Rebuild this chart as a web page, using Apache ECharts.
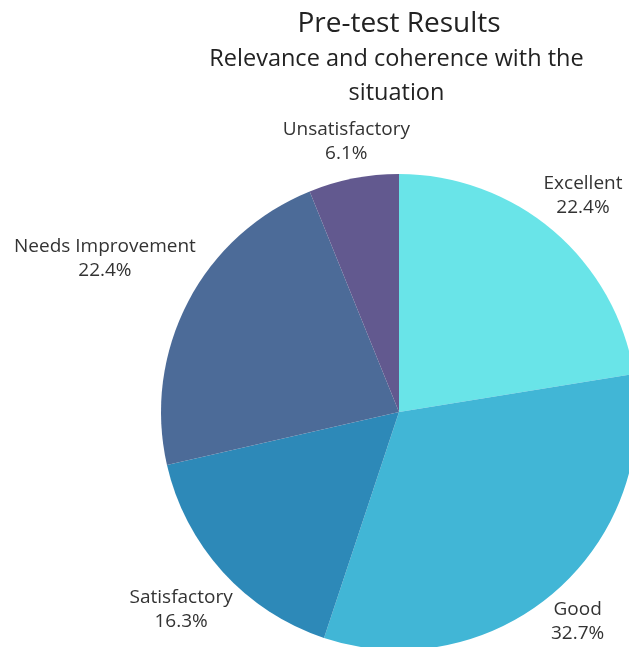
<!DOCTYPE html>
<html>
<head>
<meta charset="utf-8">
<script src="https://cdn.jsdelivr.net/npm/echarts@6/dist/echarts.min.js"></script>
<style>
html,body{margin:0;padding:0;background:#fff;}
#main{width:629px;height:647px;}
</style>
</head>
<body>
<div id="main"></div>
<script>
const categories = ['Excellent', 'Good', 'Satisfactory', 'Needs Improvement', 'Unsatisfactory'];
const counts = [11, 16, 8, 11, 3];
const colors = ['#69e4e8', '#41b6d6', '#2d89b8', '#4c6b98', '#62598f'];
const titleText = 'Pre-test Results';
const subtitleText = 'Relevance and coherence with the\nsituation';

const FONT = '"Open Sans", "Noto Sans", sans-serif';
const chart = echarts.init(document.getElementById('main'), null, {renderer: 'canvas'});
const total = counts.reduce((a, b) => a + b, 0);
const GAP = 2;

const option = {
  animation: false,
  backgroundColor: '#fff',
  title: [{
    text: titleText,
    left: 394, top: 5, textAlign: 'center',
    textStyle: {fontFamily: FONT, fontSize: 28, fontWeight: 'normal', color: '#222'}
  }, {
    text: subtitleText,
    left: 391.5, top: 37, textAlign: 'center',
    textStyle: {fontFamily: FONT, fontSize: 23.5, fontWeight: 'normal', color: '#222', lineHeight: 34}
  }],
  series: [{
    type: 'pie',
    center: [399, 412],
    radius: 238,
    startAngle: 90,
    clockwise: true,
    data: categories.map((c, i) => ({name: c, value: counts[i], itemStyle: {color: colors[i]}})),
    label: {
      show: true,
      position: 'outside',
      overflow: 'none',
      fontFamily: FONT,
      fontSize: 19,
      color: '#333',
      lineHeight: 24,
      align: 'center',
      formatter: p => p.name + '\n' + (p.value / total * 100).toFixed(1) + '%'
    },
    labelLine: {show: false, length: 10, length2: 0},
    labelLayout: function (params) {
      const data = chart.getModel().getSeriesByIndex(0).getData();
      const lay = data.getItemLayout(params.dataIndex);
      const mid = (lay.startAngle + lay.endAngle) / 2;
      const dx = Math.cos(mid), dy = Math.sin(mid);
      const w = params.labelRect.width, h = params.labelRect.height;
      const d = lay.r + GAP + Math.abs(dx) * w / 2 + Math.abs(dy) * h / 2;
      return {
        x: lay.cx + d * dx,
        y: lay.cy + d * dy,
        align: 'center',
        verticalAlign: 'middle'
      };
    },
    emphasis: {disabled: true}
  }]
};
chart.setOption(option);
</script>
</body>
</html>
